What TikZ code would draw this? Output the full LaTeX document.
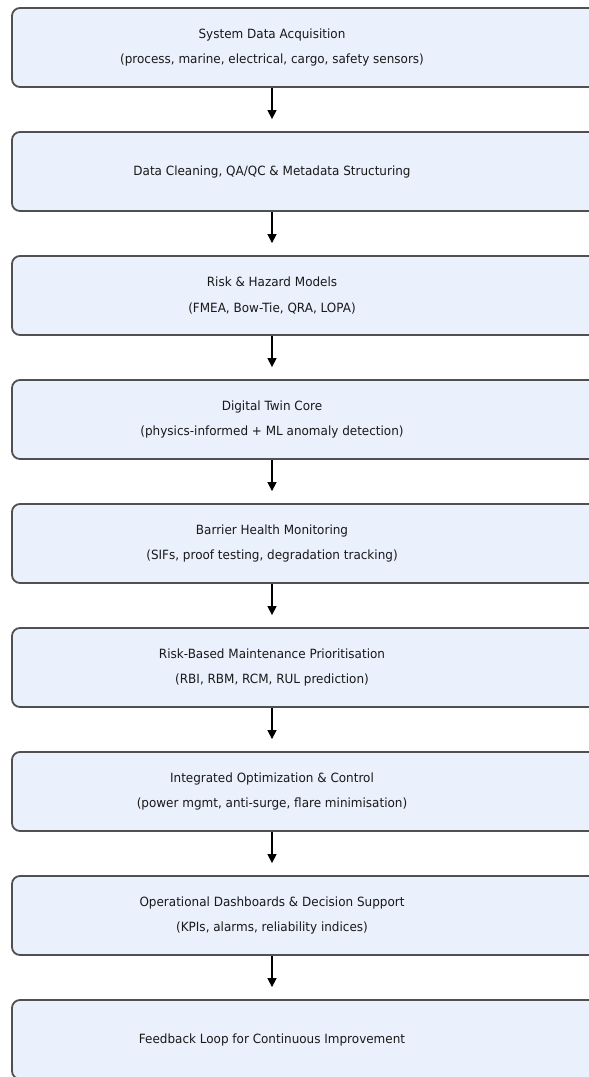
\documentclass[tikz,border=0pt]{standalone}
\usepackage{fontspec}
\setmainfont{DejaVu Sans}
\usetikzlibrary{arrows.meta,calc}
\definecolor{boxfill}{RGB}{234,240,252}
\definecolor{boxline}{RGB}{80,80,80}
\definecolor{txt}{RGB}{25,25,25}
\tikzset{
  stagebox/.style={draw=boxline, line width=1.8pt, fill=boxfill, rounded corners=8pt,
    minimum width=590pt, minimum height=79pt, inner sep=0pt},
  stagetext/.style={font=\fontsize{12}{24.2}\selectfont, text=txt, align=center, inner sep=0pt,
    yscale=1.06, transform shape},
  flow/.style={-{Triangle[length=9pt,width=9pt]}, line width=1.3pt, black},
}
\begin{document}
\begin{tikzpicture}[x=1pt,y=-1pt]
\useasboundingbox (0,0) rectangle (589,1077);
\clip (0,0) rectangle (589,1077);
\fill[white] (0,0) rectangle (589,1077);
% boxes
\node[stagebox] (b1) at (307,47.5) {};
\node[stagebox] (b2) at (307,171.5) {};
\node[stagebox] (b3) at (307,295.5) {};
\node[stagebox] (b4) at (307,419.5) {};
\node[stagebox] (b5) at (307,543.5) {};
\node[stagebox] (b6) at (307,667.5) {};
\node[stagebox] (b7) at (307,791.5) {};
\node[stagebox] (b8) at (307,915.5) {};
\node[stagebox] (b9) at (307,1039.5) {};
% texts
\node[stagetext] (t1) at (272,47.5) {System Data Acquisition\\(process, marine, electrical, cargo, safety sensors)};
\node[stagetext] (t2) at (272,171.5) {Data Cleaning, QA/QC \& Metadata Structuring};
\node[stagetext] (t3) at (272,295.5) {Risk \& Hazard Models\\(FMEA, Bow-Tie, QRA, LOPA)};
\node[stagetext] (t4) at (272,419.5) {Digital Twin Core\\(physics-informed + ML anomaly detection)};
\node[stagetext] (t5) at (272,543.5) {Barrier Health Monitoring\\(SIFs, proof testing, degradation tracking)};
\node[stagetext] (t6) at (272,667.5) {Risk-Based Maintenance Prioritisation\\(RBI, RBM, RCM, RUL prediction)};
\node[stagetext] (t7) at (272,791.5) {Integrated Optimization \& Control\\(power mgmt, anti-surge, flare minimisation)};
\node[stagetext] (t8) at (272,915.5) {Operational Dashboards \& Decision Support\\(KPIs, alarms, reliability indices)};
\node[stagetext] (t9) at (272,1039.5) {Feedback Loop for Continuous Improvement};
% arrows
\foreach \a/\b in {1/2,2/3,3/4,4/5,5/6,6/7,7/8,8/9}{
  \draw[flow] (t\a |- b\a.south) -- ($(t\b |- b\b.north)+(0,-12)$);
}
\end{tikzpicture}
\end{document}
